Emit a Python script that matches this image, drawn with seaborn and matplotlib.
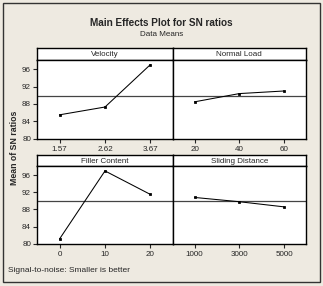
import numpy as np
import pandas as pd
import matplotlib
matplotlib.use("Agg")
import matplotlib.pyplot as plt
from matplotlib.patches import Rectangle
import seaborn as sns

factors = ["Velocity", "Normal Load", "Filler Content", "Sliding Distance"]
velocity_levels = ["1.57", "2.62", "3.67"]
velocity_sn = [85.5, 87.3, 97.1]
load_levels = ["20", "40", "60"]
load_sn = [88.5, 90.4, 91.0]
filler_levels = ["0", "10", "20"]
filler_sn = [81.1, 97.0, 91.5]
distance_levels = ["1000", "3000", "5000"]
distance_sn = [90.8, 89.8, 88.6]
y_ticks = [80, 84, 88, 92, 96]

levels = [velocity_levels, load_levels, filler_levels, distance_levels]
values = [velocity_sn, load_sn, filler_sn, distance_sn]
grand_mean = np.mean(velocity_sn + load_sn + filler_sn + distance_sn)

sns.set_style("white")
plt.rcParams["font.family"] = ["Liberation Sans Narrow", "Liberation Sans", "DejaVu Sans"]

W, H = 323, 286
bg = "#EEEAE1"
fig = plt.figure(figsize=(W / 100, H / 100), dpi=100, facecolor=bg)

def fx(px):
    return px / W

def fy(py):
    return 1 - py / H

fig.patches.append(Rectangle((fx(3), fy(282)), fx(317), 279 / H, transform=fig.transFigure,
                             fill=False, edgecolor="#333333", lw=1.0))

cols = [(37.3, 172.7), (172.7, 306.0)]
rows = [(48.3, 60.0, 139.3), (155.0, 166.0, 244.3)]

for i, name in enumerate(factors):
    r, c = divmod(i, 2)
    x0, x1 = cols[c]
    htop, ptop, pbot = rows[r]

    # header strip with the factor name
    hax = fig.add_axes([fx(x0), fy(ptop), fx(x1 - x0), (ptop - htop) / H])
    hax.set_facecolor("white")
    hax.set_xticks([])
    hax.set_yticks([])
    for s in hax.spines.values():
        s.set_color("black")
        s.set_linewidth(1.0)
    hax.text(0.5, 0.45, name, ha="center", va="center", fontsize=5.8, transform=hax.transAxes)

    ax = fig.add_axes([fx(x0), fy(pbot), fx(x1 - x0), (pbot - ptop) / H])
    ax.set_facecolor("white")
    df = pd.DataFrame({"level": levels[i], "sn": values[i]})
    sns.pointplot(data=df, x="level", y="sn", color="black", markers="s",
                  markersize=1.5, linewidth=0.75, ax=ax)
    ax.axhline(grand_mean, color="#444444", lw=0.9, zorder=0)
    ax.set_xlim(-0.49, 2.49)
    ax.set_ylim(79.85, 98.15)
    ax.set_xlabel("")
    ax.set_ylabel("")
    ax.tick_params(axis="x", length=3, width=0.8, direction="out", labelsize=5.8, pad=2, bottom=True)
    if c == 0:
        ax.set_yticks(y_ticks)
        ax.tick_params(axis="y", length=3, width=0.8, direction="out", labelsize=5.8, pad=1.5, left=True)
    else:
        ax.set_yticks([])
    for s in ax.spines.values():
        s.set_color("black")
        s.set_linewidth(1.0)

fig.text(fx(161.5), fy(23), "Main Effects Plot for SN ratios", ha="center", va="center",
         fontsize=7.2, fontweight="bold")
fig.text(fx(162), fy(35), "Data Means", ha="center", va="center", fontsize=5.8)
fig.text(fx(15), fy(148), "Mean of SN ratios", ha="center", va="center", rotation=90,
         fontsize=6.3, fontweight="bold")
fig.text(fx(8), fy(270), "Signal-to-noise: Smaller is better", ha="left", va="center", fontsize=6.0)

fig.savefig("out.png", dpi=100, facecolor=bg)
